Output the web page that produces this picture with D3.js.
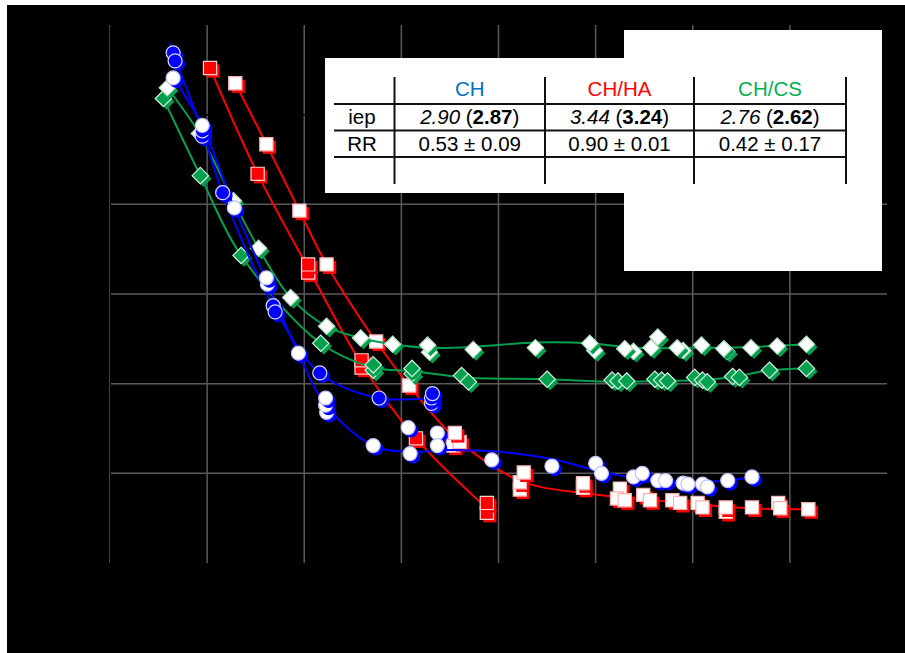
<!DOCTYPE html>
<html><head><meta charset="utf-8">
<script src="https://cdn.jsdelivr.net/npm/d3@7"></script>
<style>
html,body{margin:0;padding:0;background:#fff;}
svg{display:block;}
</style></head><body>
<svg id="chart" width="905" height="653"></svg>
<script>
// ---------- data (pH, zeta potential / mV) ----------
const xTicks = [2, 3, 4, 5, 6, 7, 8, 9, 10];
const yTicks = [-50, -40, -30, -20, -10, 0, 10];
const xGrid = [2, 3, 4, 5, 6, 7, 8, 9];
const yGrid = [-10, -20, -30, -40];

// CH (blue circles)
const chRunA = [[2.65,6.9],[2.67,6.0],[2.95,-2.4],[2.95,-1.8],[3.16,-8.7],[3.68,-21.3],[3.70,-22.0],[4.16,-28.8],[4.77,-31.6],[5.31,-32.2],[5.31,-31.6],[5.32,-31.1]];
const chRunB = [[2.65,4.1],[2.95,-1.2],[3.28,-10.4],[3.62,-18.9],[3.61,-18.2],[3.94,-26.6],[4.23,-33.2],[4.22,-32.4],[4.22,-31.6],[4.71,-36.9],[5.07,-34.9],[5.09,-37.8],[5.37,-35.5],[5.37,-36.9],[5.93,-38.5],[6.55,-39.2],[7.00,-38.9],[7.06,-40.0],[7.39,-40.4],[7.48,-40.0],[7.64,-40.8],[7.72,-40.8],[7.90,-41.1],[7.95,-41.2],[8.10,-41.2],[8.15,-41.5],[8.36,-40.8],[8.61,-40.4]];
const chLineA = [[2.62,8.0],[2.65,6.9],[2.95,-1.8],[3.16,-8.7],[3.68,-21.3],[4.16,-28.8],[4.77,-31.6],[5.31,-31.6]];
const chLineB = [[2.65,4.1],[2.95,-1.2],[3.28,-10.4],[3.61,-18.5],[3.94,-26.6],[4.22,-32.4],[4.71,-36.9],[5.09,-37.6],[5.5,-37.4],[6.0,-37.6],[6.55,-38.4],[7.05,-39.8],[7.6,-40.8],[8.1,-41.0],[8.61,-40.4]];

// CH/HA (red squares)
const haRunA = [[3.03,5.2],[3.52,-6.6],[4.04,-17.6],[4.04,-16.7],[4.59,-28.2],[4.59,-27.4],[5.15,-36.1],[5.88,-44.4],[5.88,-43.3]];
const haRunB = [[3.29,3.5],[3.61,-3.3],[3.95,-10.7],[4.23,-16.7],[4.74,-25.3],[5.08,-30.2],[5.53,-36.9],[5.60,-36.5],[5.55,-35.5],[6.22,-41.8],[6.22,-41.0],[6.26,-39.9],[6.87,-41.6],[6.87,-41.1],[7.25,-41.7],[7.22,-42.8],[7.30,-43.0],[7.49,-42.4],[7.56,-43.0],[7.79,-43.0],[7.87,-43.3],[8.05,-43.3],[8.10,-43.8],[8.34,-44.3],[8.34,-43.8],[8.61,-43.8],[8.88,-43.3],[8.90,-43.9],[9.19,-44.0]];
const haLineA = [[3.03,5.2],[3.52,-6.6],[4.04,-17.1],[4.59,-27.8],[5.15,-36.1],[5.88,-43.9]];
const haLineB = [[3.29,3.5],[3.61,-3.3],[3.95,-10.7],[4.23,-16.7],[4.74,-25.3],[5.08,-30.2],[5.57,-36.2],[6.24,-40.9],[6.87,-42.2],[7.5,-42.9],[8.1,-43.5],[8.61,-43.9],[9.19,-44.0]];

// CH/CS (green diamonds)
const csRunA = [[2.59,3.0],[2.92,-2.1],[3.27,-9.6],[3.53,-14.9],[3.86,-20.4],[4.23,-23.6],[4.58,-24.9],[4.91,-25.6],[5.29,-26.5],[5.27,-25.7],[5.74,-26.2],[6.38,-26.0],[6.99,-26.3],[6.94,-25.5],[7.39,-26.4],[7.30,-26.1],[7.57,-26.0],[7.64,-24.8],[7.90,-26.3],[7.84,-26.0],[8.09,-25.7],[8.35,-26.4],[8.32,-26.1],[8.60,-26.0],[8.87,-25.8],[9.17,-25.6]];
const csRunB = [[2.55,1.8],[2.93,-6.8],[3.35,-15.7],[4.17,-25.5],[4.71,-28.5],[4.71,-27.9],[5.11,-28.9],[5.11,-28.3],[5.62,-29.1],[5.69,-29.8],[6.50,-29.5],[7.17,-29.6],[7.23,-29.7],[7.32,-29.7],[7.61,-29.5],[7.68,-29.6],[7.74,-29.7],[8.02,-29.3],[8.10,-29.6],[8.15,-29.8],[8.41,-29.2],[8.48,-29.3],[8.79,-28.5],[9.17,-28.3]];
const csLineA = [[2.59,3.0],[2.92,-2.1],[3.27,-9.6],[3.53,-14.9],[3.86,-20.4],[4.23,-23.6],[4.58,-24.9],[4.91,-25.6],[5.27,-26.0],[5.74,-25.9],[6.38,-25.4],[6.94,-25.5],[7.4,-26.0],[8.0,-26.0],[8.6,-25.9],[9.17,-25.6]];
const csLineB = [[2.55,1.8],[2.93,-6.8],[3.35,-15.7],[4.17,-25.5],[4.71,-28.2],[5.11,-28.6],[5.65,-29.3],[6.5,-29.5],[7.2,-29.8],[7.7,-29.7],[8.1,-29.6],[8.45,-29.2],[8.79,-28.5],[9.17,-28.3]];

// table
const tableCols = ["CH", "CH/HA", "CH/CS"];
const tableColors = ["#0070c0", "#ff0000", "#00b050"];
const iepItalic = ["2.90", "3.44", "2.76"];
const iepBold = ["2.87", "3.24", "2.62"];
const rrMean = ["0.53", "0.90", "0.42"];
const rrSd = ["0.09", "0.01", "0.17"];

// ---------- drawing ----------
const W = 905, H = 653;
const svg = d3.select("#chart");
svg.append("rect").attr("x", 7).attr("y", 5).attr("width", W - 7).attr("height", H - 5).attr("fill", "#000");

const x = d3.scaleLinear().domain([2, 10]).range([110, 887]);
const y = d3.scaleLinear().domain([-50, 10]).range([563, 25]);

const grid = svg.append("g");
grid.selectAll("line.v").data(xGrid).join("line").attr("class", "v")
  .attr("x1", d => x(d)).attr("x2", d => x(d)).attr("y1", y(10)).attr("y2", y(-50))
  .attr("stroke", "#5a5a5a").attr("stroke-width", 1.5);
grid.selectAll("line.h").data(yGrid).join("line").attr("class", "h")
  .attr("x1", x(2)).attr("x2", x(10)).attr("y1", d => y(d)).attr("y2", d => y(d))
  .attr("stroke", "#5a5a5a").attr("stroke-width", 1.5);

// axes (black, as in the original)
const ax = svg.append("g").attr("transform", `translate(0,${y(-50)})`)
  .call(d3.axisBottom(x).tickValues(xTicks).tickSize(0).tickPadding(10));
const ay = svg.append("g").attr("transform", `translate(${x(2)},0)`)
  .call(d3.axisLeft(y).tickValues(yTicks).tickSize(0).tickPadding(10));
svg.append("line").attr("x1", x(2)).attr("x2", x(10)).attr("y1", y(0)).attr("y2", y(0)).attr("stroke", "#000").attr("stroke-width", 1.5);
[ax, ay].forEach(a => {
  a.select(".domain").attr("stroke", "#000");
  a.selectAll("text").attr("fill", "#000").attr("font-family", "Liberation Sans, Arial, sans-serif").attr("font-size", 18);
});
svg.append("text").attr("x", (x(2) + x(10)) / 2).attr("y", 620).attr("text-anchor", "middle")
  .attr("fill", "#000").attr("font-family", "Liberation Sans, Arial, sans-serif").attr("font-size", 20).text("pH");
svg.append("text").attr("transform", `translate(40,${(y(10) + y(-50)) / 2}) rotate(-90)`).attr("text-anchor", "middle")
  .attr("fill", "#000").attr("font-family", "Liberation Sans, Arial, sans-serif").attr("font-size", 20).text("ζ-potential (mV)");

const line = d3.line().x(d => x(d[0])).y(d => y(d[1])).curve(d3.curveCatmullRom.alpha(0.5));

function shapePath(kind, cx, cy) {
  if (kind === "circle") {
    const r = 7;
    return `M${cx - r},${cy}a${r},${r} 0 1,0 ${2 * r},0a${r},${r} 0 1,0 ${-2 * r},0Z`;
  }
  if (kind === "square") {
    const s = 6.6;
    return `M${cx - s},${cy - s}H${cx + s}V${cy + s}H${cx - s}Z`;
  }
  const d = 8.2;
  return `M${cx},${cy - d}L${cx + d},${cy}L${cx},${cy + d}L${cx - d},${cy}Z`;
}

function drawSeries(lines, runs, color, kind, filledStroke, whiteStroke) {
  const g = svg.append("g");
  lines.forEach(l => g.append("path").attr("d", line(l)).attr("fill", "none").attr("stroke", color).attr("stroke-width", 2));
  runs.forEach(run => {
    const pts = g.append("g");
    run.data.forEach(p => {
      const cx = x(p[0]), cy = y(p[1]);
      pts.append("path").attr("d", shapePath(kind, cx + 3, cy + 3)).attr("fill", color);
      pts.append("path").attr("d", shapePath(kind, cx, cy))
        .attr("fill", run.filled ? color : "#ffffff")
        .attr("stroke", run.filled ? filledStroke : whiteStroke)
        .attr("stroke-width", 1.2);
    });
  });
}

drawSeries([haLineA, haLineB], [{data: haRunA, filled: true}, {data: haRunB, filled: false}], "#ff0000", "square", "#ffd0d0", "#ffb0b0");
drawSeries([csLineA, csLineB], [{data: csRunB, filled: true}, {data: csRunA, filled: false}], "#00a04e", "diamond", "#d8f0e0", "#b0e0c0");
drawSeries([chLineA, chLineB], [{data: chRunA, filled: true}, {data: chRunB, filled: false}], "#0000ff", "circle", "#d8d8ff", "#c0c0ff");

// ---------- table / legend ----------
const tb = svg.append("g").attr("font-family", "Liberation Sans, Arial, sans-serif").attr("font-size", 20.5);
tb.append("path").attr("d", "M325,58H624V30H882V271H624V193H325Z").attr("fill", "#fff");
const colEdges = [394.5, 545, 694, 846];
const rowLines = [104, 130.5, 157];
tb.selectAll("line.r").data(rowLines).join("line").attr("class", "r")
  .attr("x1", 334).attr("x2", 847).attr("y1", d => d).attr("y2", d => d).attr("stroke", "#111").attr("stroke-width", 2);
tb.selectAll("line.c").data(colEdges).join("line").attr("class", "c")
  .attr("x1", d => d).attr("x2", d => d).attr("y1", 77).attr("y2", 184).attr("stroke", "#111").attr("stroke-width", 2);
tb.append("text").attr("x", 362).attr("y", 124).attr("text-anchor", "middle").attr("fill", "#000").text("iep");
tb.append("text").attr("x", 362).attr("y", 151).attr("text-anchor", "middle").attr("fill", "#000").text("RR");
tableCols.forEach((c, i) => {
  const cx = (colEdges[i] + colEdges[i + 1]) / 2;
  tb.append("text").attr("x", cx).attr("y", 96).attr("text-anchor", "middle").attr("fill", tableColors[i]).text(c);
  const t = tb.append("text").attr("x", cx).attr("y", 124).attr("text-anchor", "middle").attr("fill", "#000");
  t.append("tspan").attr("font-style", "italic").text(iepItalic[i]);
  t.append("tspan").text(" (");
  t.append("tspan").attr("font-weight", "bold").text(iepBold[i]);
  t.append("tspan").text(")");
  tb.append("text").attr("x", cx).attr("y", 151).attr("text-anchor", "middle").attr("fill", "#000")
    .text(`${rrMean[i]} ± ${rrSd[i]}`);
});
</script>
</body></html>
